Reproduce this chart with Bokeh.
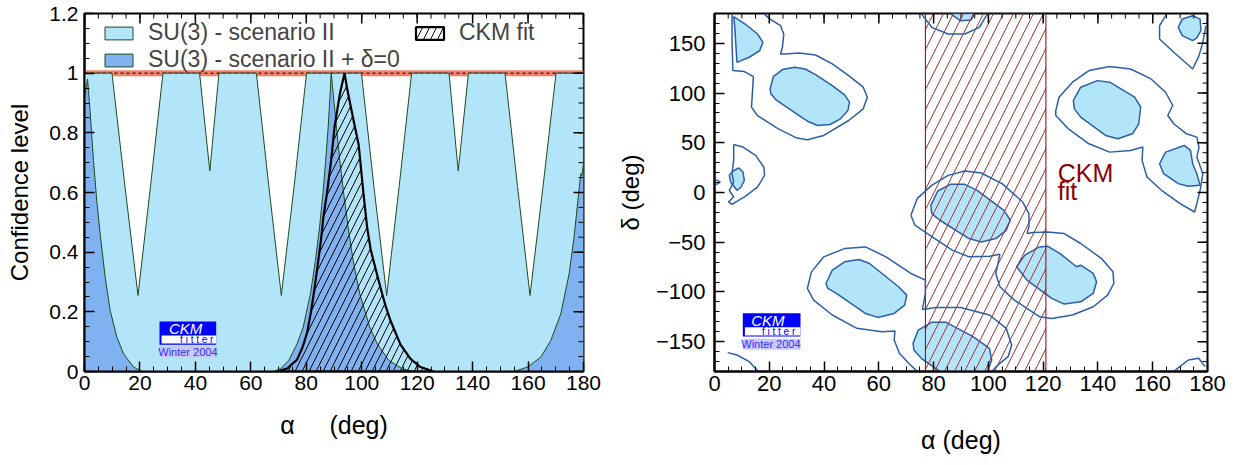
import math
from bokeh.plotting import figure
from bokeh.layouts import row
from bokeh.models import (Range1d, FixedTicker, CustomJSTickFormatter,
                          Legend, LegendItem, Label)
from bokeh.embed import file_html
from bokeh.resources import INLINE

FONT = "Liberation Sans"

# ---------------- left panel data: confidence level vs alpha ----------------
su3_alpha = [0, 9.9, 14.6, 19.3, 23.8, 28.3, 41.5, 45.2, 48.5, 62.0, 66.5, 71.0, 75.6, 80.1,
             99.9, 104.4, 109.0, 113.5, 118.0, 131.5, 134.8, 138.5, 151.7, 156.2, 160.7,
             165.4, 170.1, 180]
su3_cl = [1, 1, 0.62, 0.255, 0.62, 1, 1, 0.672, 1, 1, 0.62, 0.255, 0.62, 1,
          1, 0.62, 0.255, 0.62, 1, 1, 0.672, 1, 1, 0.62, 0.255, 0.62, 1, 1]

d0_alpha = [0, 1.1, 2.0, 3.25, 4.45, 5.66, 7.46, 9.27, 11.7, 14.1, 17.7, 20.7,
            68.0, 70.7, 73.7, 76.7, 78.9, 81.5, 83.3, 84.8, 86.0, 87.0, 87.9, 88.6, 89.0,
            89.7, 90.9, 92.1, 93.5, 95.1, 96.9, 99.3, 102.9, 105.6, 109.8, 114.6, 118.8,
            155.0, 159.8, 164.6, 168.2, 171.8, 174.8, 176.6, 178.1, 179.0, 179.4, 180]
d0_cl = [0.92, 0.98, 0.875, 0.707, 0.57, 0.46, 0.316, 0.204, 0.115, 0.059, 0.015, 0,
         0, 0.009, 0.037, 0.093, 0.149, 0.26, 0.372, 0.484, 0.596, 0.707, 0.819, 0.931, 1.0,
         0.931, 0.819, 0.707, 0.596, 0.484, 0.372, 0.26, 0.149, 0.093, 0.037, 0.009, 0,
         0, 0.015, 0.048, 0.104, 0.193, 0.327, 0.45, 0.584, 0.663, 0.657, 0.696]

ckm_alpha = [69.5, 73.1, 76.7, 78.6, 80.3, 81.7, 83.0, 84.3, 85.3, 86.2, 87.5, 89.0, 90.2,
             92.1, 93.8, 94.7, 96.0, 97.1, 98.9, 100.7, 102.0, 103.2, 105.0, 106.8, 108.6,
             110.4, 112.2, 114.0, 117.6, 121.2, 126.0]
ckm_cl = [0, 0.01, 0.04, 0.08, 0.13, 0.2, 0.28, 0.37, 0.44, 0.52, 0.6, 0.71, 0.82,
          0.93, 1.0, 0.95, 0.89, 0.84, 0.76, 0.59, 0.48, 0.41, 0.344, 0.28, 0.22,
          0.17, 0.13, 0.09, 0.042, 0.015, 0]

band_cl = [0.99, 1.01]
x_ticks = list(range(0, 181, 20))
x_minor = list(range(0, 181, 5))
cl_ticks = [0, 0.2, 0.4, 0.6, 0.8, 1.0, 1.2]
cl_minor = [round(i * 0.05, 2) for i in range(25)]

# ---------------- right panel data: contours in (alpha, delta) ----------------
f1_a = [7.0, 7.4, 8.2, 12.7, 16.5, 17.7, 15.7, 11.2, 7.0]
f1_d = [176.8, 166.1, 130.9, 136.0, 142.6, 151.0, 159.4, 169.4, 176.8]
f2_a = [20.3, 21.5, 24.8, 29.3, 33.1, 36.9, 43.0, 47.5, 49.3, 48.7, 46.0, 42.2, 37.7, 33.9, 27.8, 22.5, 20.6]
f2_d = [104.2, 116.6, 123.6, 125.9, 124.2, 118.6, 107.5, 98.2, 90.8, 82.4, 74.1, 68.4, 67.4, 71.7, 83.1, 93.1, 99.2]
f3_a = [5.4, 6.7, 8.9, 10.4, 10.9, 9.7, 8.2, 5.9]
f3_d = [17.2, 21.6, 24.6, 20.6, 12.2, 5.5, 2.2, 10.5]
f4_a = [40.7, 43.0, 47.5, 52.8, 56.6, 67.2, 70.2, 69.4, 65.6, 59.6, 55.1, 44.5, 41.4]
f4_d = [-91.5, -78.1, -69.7, -67.4, -71.4, -94.8, -103.2, -113.2, -121.6, -125.6, -121.6, -101.5, -96.5]
f5_a = [79.0, 81.5, 86.1, 91.4, 95.9, 105.7, 108.0, 106.5, 102.7, 97.4, 92.9, 82.3, 79.3]
f5_d = [-12.9, 1.5, 8.2, 8.2, 2.2, -17.9, -27.9, -38.0, -46.3, -49.7, -46.3, -27.9, -21.2]
f6_a = [110.3, 113.3, 118.6, 121.6, 126.2, 130.7, 132.2, 133.7, 138.3, 139.5, 138.3, 133.7, 127.7, 123.1, 114.1]
f6_d = [-74.7, -63.0, -54.7, -54.0, -61.4, -71.4, -74.7, -73.1, -81.4, -89.8, -101.5, -109.9, -112.2, -106.5, -88.1]
f7_a = [72.5, 74.4, 79.3, 84.6, 94.4, 100.4, 101.2, 99.7, 82.3, 75.5, 72.8]
f7_d = [-151.7, -138.3, -130.6, -130.6, -145.0, -156.7, -168.4, -179.9, -179.9, -166.7, -158.4]
f8_a = [131.0, 133.7, 139.8, 144.3, 153.4, 155.6, 154.9, 152.6, 147.3, 142.8, 133.7, 131.4]
f8_d = [92.5, 105.9, 112.5, 110.9, 95.8, 85.8, 69.1, 59.0, 54.0, 57.4, 75.8, 84.1]
f9_a = [162.5, 164.7, 171.5, 173.8, 174.6, 176.1, 177.3, 173.0, 169.3, 164.0]
f9_d = [28.9, 40.6, 47.3, 42.3, 28.9, 18.9, 7.2, 6.2, 8.9, 18.9]
f10_a = [169.3, 170.8, 174.6, 177.3, 177.6, 176.1, 174.6, 170.8]
f10_d = [166.1, 174.4, 177.8, 174.4, 162.7, 155.4, 152.7, 157.7]
f11_a = [86.1, 89.9, 93.6, 95.1]
f11_d = [179.9, 172.7, 173.4, 179.9]

c1_a = [75.5, 79.3, 85.3, 91.4, 96.7, 99.7]
c1_d = [179.9, 166.1, 159.4, 159.4, 166.1, 179.9]
c2_a = [71.7, 74.0, 79.3, 85.3, 91.4, 97.4, 105.0, 112.5, 114.8, 114.8, 114.1, 116.3, 121.6, 127.7,
        133.7, 141.3, 145.5, 145.8, 143.5, 138.3, 130.7, 123.1, 118.6, 109.5, 104.2, 102.7, 103.5,
        104.2, 100.4, 92.9, 86.8, 77.7, 73.2, 71.7]
c2_d = [-22.9, -6.2, 7.2, 17.2, 21.6, 19.6, 8.9, -9.5, -21.2, -34.6, -41.3, -40.3, -39.6, -41.3,
        -51.3, -66.4, -79.8, -91.5, -103.2, -114.9, -123.2, -126.6, -124.9, -108.2, -94.8, -81.4, -71.4,
        -62.0, -64.0, -64.7, -58.0, -41.3, -32.9, -22.9]
c3_a = [74.0, 70.9, 67.5, 65.6, 65.9, 61.1, 52.0, 43.0, 36.2, 33.9, 35.4, 39.9, 47.5, 55.1, 62.6,
        71.7, 77.0, 77.0, 75.9, 80.8, 89.9, 100.4, 106.5, 108.5, 107.2, 103.5, 101.2]
c3_d = [-179.9, -171.7, -161.7, -148.3, -139.3, -140.0, -136.6, -123.2, -108.2, -96.5, -79.8, -64.7,
        -56.4, -54.7, -64.7, -81.4, -88.1, -101.5, -117.6, -115.6, -115.6, -123.2, -136.6, -153.3,
        -165.1, -173.4, -179.9]
c4_a = [6.4, 6.4, 6.7, 10.9, 14.2, 13.9, 13.5, 15.7, 23.3, 30.1, 33.9, 39.9, 49.0, 54.3, 55.8, 54.3,
        49.0, 43.0, 36.9, 30.9, 25.6, 24.1, 24.8, 25.3, 24.1, 20.3, 18.0]
c4_d = [179.9, 152.7, 122.6, 121.6, 116.6, 102.5, 85.8, 77.4, 64.0, 54.7, 53.0, 57.4, 72.4, 84.1,
        95.8, 105.9, 117.6, 129.3, 138.3, 140.3, 139.3, 139.3, 146.0, 159.4, 167.7, 174.4, 179.9]
c5_a = [7.0, 10.4, 15.0, 18.0, 18.3, 15.7, 11.2, 6.4, 5.1, 7.0, 5.4, 7.0, 6.4, 7.0, 7.0]
c5_d = [48.3, 45.7, 37.3, 25.6, 17.2, 5.5, -3.8, -11.9, -9.5, -4.5, 2.2, 10.5, 18.9, 32.3, 48.3]
c6_a = [124.6, 125.8, 130.7, 136.7, 144.3, 151.9, 159.4, 164.7, 167.3, 165.5, 167.7, 172.3, 176.1,
        176.9, 176.1, 178.3, 177.3, 176.1, 175.3, 170.0, 163.2, 157.9, 156.1, 156.4, 151.9, 144.3,
        136.7, 129.2, 124.6, 124.6]
c6_d = [82.4, 95.8, 110.9, 122.6, 126.6, 124.2, 114.2, 100.8, 87.5, 77.4, 69.1, 59.0, 55.7,
        45.7, 35.6, 18.9, 2.2, -11.2, -19.6, -11.2, 2.2, 15.6, 32.3, 45.7, 42.3, 40.6,
        49.0, 64.0, 77.4, 82.4]
c7_a = [165.2, 162.5, 162.5, 167.7, 174.6, 176.9, 178.3, 179.4]
c7_d = [179.9, 167.7, 154.3, 141.0, 124.2, 137.6, 151.0, 167.7]
c8_a = [4.8, 8.2, 12.7, 16.0]
c8_d = [-161.0, -163.4, -170.1, -179.9]
c9_a = [167.7, 173.0, 176.8, 179.1]
c9_d = [-179.9, -168.4, -166.7, -175.1]
c10_a = [0.6, 2.1, 0.6]
c10_d = [13.0, 10.5, 8.0]

ckm_band_alpha = [77.0, 121.0]
delta_ticks = [-150, -100, -50, 0, 50, 100, 150]
delta_minor = list(range(-180, 181, 10))

# ---------------- colours ----------------
LIGHT = "#b3e5fa"
MEDIUM = "#80b1f0"
EDGE = "#1d4a1d"
CBLUE = "#2b5ea8"
DARKRED = "#8b0000"

H = 458
FRAME_H = 358
TOP = 13


def frame_axes(p, xt, xm, yt, ym, fsize, xmax, ymax, yfmt=None, xlab="", ylab="",
               xstand=10, ystand=10, xlsize="25px", ylsize="24px"):
    xa = p.xaxis[0]
    ya = p.yaxis[0]
    xa.ticker = FixedTicker(ticks=xt, minor_ticks=xm)
    ya.ticker = FixedTicker(ticks=yt, minor_ticks=ym)
    if yfmt is not None:
        ya.formatter = yfmt
    xa.axis_label = xlab
    ya.axis_label = ylab
    xa.axis_label_standoff = xstand
    ya.axis_label_standoff = ystand
    for ax in [xa, ya]:
        ax.major_tick_in = 10
        ax.major_tick_out = 0
        ax.minor_tick_in = 5
        ax.minor_tick_out = 0
        ax.axis_line_color = "black"
        ax.axis_line_width = 2
        ax.major_tick_line_color = "black"
        ax.major_tick_line_width = 1.5
        ax.minor_tick_line_color = "black"
        ax.minor_tick_line_width = 1
        ax.major_label_text_font = FONT
        ax.major_label_text_font_size = fsize
        ax.major_label_text_color = "black"
        ax.axis_label_text_font = FONT
        ax.axis_label_text_font_style = "normal"
        ax.axis_label_text_color = "black"
    xa.axis_label_text_font_size = xlsize
    ya.axis_label_text_font_size = ylsize
    xa.major_label_standoff = 4
    ya.major_label_standoff = 6
    # mirrored tick marks on the top and right frame edges
    p.ray(x=xt, y=[ymax] * len(xt), length=10, length_units="screen", angle=-math.pi / 2,
          line_color="black", line_width=1.5)
    p.ray(x=xm, y=[ymax] * len(xm), length=5, length_units="screen", angle=-math.pi / 2,
          line_color="black", line_width=1)
    p.ray(x=[xmax] * len(yt), y=yt, length=10, length_units="screen", angle=math.pi,
          line_color="black", line_width=1.5)
    p.ray(x=[xmax] * len(ym), y=ym, length=5, length_units="screen", angle=math.pi,
          line_color="black", line_width=1)


# ---------------- left figure ----------------
p1 = figure(width=604, height=H, output_backend="svg", toolbar_location=None,
            x_range=Range1d(0, 180), y_range=Range1d(0, 1.2))
p1.min_border_left = 84
p1.min_border_right = 21
p1.min_border_top = TOP
p1.min_border_bottom = H - TOP - FRAME_H
p1.grid.visible = False
p1.outline_line_color = "black"
p1.outline_line_width = 2

p1.varea(x=[0, 180], y1=[band_cl[0]] * 2, y2=[band_cl[1]] * 2, fill_color="#f3806c")
p1.line(x=[0, 180], y=[1, 1], line_color="black", line_width=1, line_dash="3 3")

r_su3 = p1.patch(x=[su3_alpha[0]] + su3_alpha + [su3_alpha[-1]], y=[0] + su3_cl + [0],
                 fill_color=LIGHT, line_color=EDGE, line_width=1)
r_d0 = p1.patch(x=[d0_alpha[0]] + d0_alpha + [d0_alpha[-1]], y=[0] + d0_cl + [0],
                fill_color=MEDIUM, line_color=EDGE, line_width=1)
r_ckm = p1.patch(x=ckm_alpha, y=ckm_cl, fill_alpha=0, hatch_pattern="/", hatch_color="black",
                 hatch_scale=14, hatch_weight=1, line_color="black", line_width=2.2)

# logo (left)
p1.quad(left=27.05, right=47.5, bottom=0.0895, top=0.1676, fill_color="#0000ff", line_color=None)
p1.quad(left=27.8, right=47.5, bottom=0.094, top=0.1207, fill_color="white", line_color=None)
p1.quad(left=27.05, right=47.5, bottom=0.048, top=0.0848, fill_color="#c8c8ff", line_color=None)
p1.add_layout(Label(x=36.5, y=0.144, text="CKM", text_align="center", text_baseline="middle",
                    text_color="white", text_font=FONT, text_font_style="italic",
                    text_font_size="15px"))
p1.add_layout(Label(x=40.5, y=0.106, text="f i t t e r", text_align="center", text_baseline="middle",
                    text_color="#0000ff", text_font=FONT, text_font_size="10px"))
p1.add_layout(Label(x=37.3, y=0.066, text="Winter 2004", text_align="center", text_baseline="middle",
                    text_color="#3030ff", text_font=FONT, text_font_size="11px"))

frame_axes(p1, x_ticks, x_minor, cl_ticks, cl_minor, "21px", 180, 1.2,
           yfmt=CustomJSTickFormatter(code="return (Math.round(tick*10)/10).toString();"),
           xlab="\u03b1\u00a0\u00a0\u00a0\u00a0\u00a0(deg)", ylab="Confidence level",
           xstand=18, ystand=13)

leg_kw = dict(label_text_font=FONT, label_text_font_size="23px", glyph_width=35, glyph_height=16,
              label_standoff=12, spacing=0, padding=0, margin=0, border_line_alpha=0,
              background_fill_alpha=0, label_height=20)
leg1 = Legend(items=[LegendItem(label="SU(3) - scenario II", renderers=[r_su3])],
              location=(17, 325), **leg_kw)
leg2 = Legend(items=[LegendItem(label="SU(3) - scenario II + \u03b4=0", renderers=[r_d0])],
              location=(17, 298), **leg_kw)
leg3 = Legend(items=[LegendItem(label="CKM fit", renderers=[r_ckm])],
              location=(328, 325), **leg_kw)
p1.add_layout(leg1)
p1.add_layout(leg2)
p1.add_layout(leg3)

# ---------------- right figure ----------------
p2 = figure(width=628, height=H, output_backend="svg", toolbar_location=None,
            x_range=Range1d(0, 180), y_range=Range1d(-180, 180))
p2.min_border_left = 110
p2.min_border_right = 25
p2.min_border_top = TOP
p2.min_border_bottom = H - TOP - FRAME_H
p2.grid.visible = False
p2.outline_line_color = "black"
p2.outline_line_width = 2

fills_a = [f1_a, f2_a, f3_a, f4_a, f5_a, f6_a, f7_a, f8_a, f9_a, f10_a, f11_a]
fills_d = [f1_d, f2_d, f3_d, f4_d, f5_d, f6_d, f7_d, f8_d, f9_d, f10_d, f11_d]
p2.patches(xs=fills_a, ys=fills_d, fill_color=LIGHT, line_color=CBLUE, line_width=1.5)

p2.quad(left=ckm_band_alpha[0], right=ckm_band_alpha[1], bottom=-180, top=180, fill_alpha=0,
        hatch_pattern="/", hatch_color="#a83232", hatch_scale=20, hatch_weight=1,
        line_color=DARKRED, line_width=1)

lines_a = [c1_a, c2_a, c3_a, c4_a, c5_a, c6_a, c7_a, c8_a, c9_a, c10_a]
lines_d = [c1_d, c2_d, c3_d, c4_d, c5_d, c6_d, c7_d, c8_d, c9_d, c10_d]
p2.multi_line(xs=lines_a, ys=lines_d, line_color=CBLUE, line_width=1.5)

p2.add_layout(Label(x=125.3, y=6, text="CKM", text_align="left", text_baseline="bottom",
                    text_color=DARKRED, text_font=FONT, text_font_size="25px"))
p2.add_layout(Label(x=125.3, y=-13, text="fit", text_align="left", text_baseline="bottom",
                    text_color=DARKRED, text_font=FONT, text_font_size="25px"))

# logo (right)
p2.quad(left=10.33, right=31.4, bottom=-144.8, top=-121.4, fill_color="#0000ff", line_color=None)
p2.quad(left=11.1, right=31.4, bottom=-143.8, top=-135.5, fill_color="white", line_color=None)
p2.quad(left=10.33, right=31.4, bottom=-158.2, top=-147.1, fill_color="#c8c8ff", line_color=None)
p2.add_layout(Label(x=19.5, y=-128.4, text="CKM", text_align="center", text_baseline="middle",
                    text_color="white", text_font=FONT, text_font_style="italic",
                    text_font_size="15px"))
p2.add_layout(Label(x=23.4, y=-139.8, text="f i t t e r", text_align="center", text_baseline="middle",
                    text_color="#0000ff", text_font=FONT, text_font_size="10px"))
p2.add_layout(Label(x=20.6, y=-152.8, text="Winter 2004", text_align="center", text_baseline="middle",
                    text_color="#3030ff", text_font=FONT, text_font_size="11px"))

frame_axes(p2, x_ticks, x_minor, delta_ticks, delta_minor, "22px", 180, 180,
           xlab="\u03b1 (deg)", ylab="\u03b4 (deg)", xstand=32, ystand=9)
p2.yaxis[0].major_label_standoff = 9

layout = row(p1, p2)
open("out.html", "w").write(file_html(layout, INLINE))
